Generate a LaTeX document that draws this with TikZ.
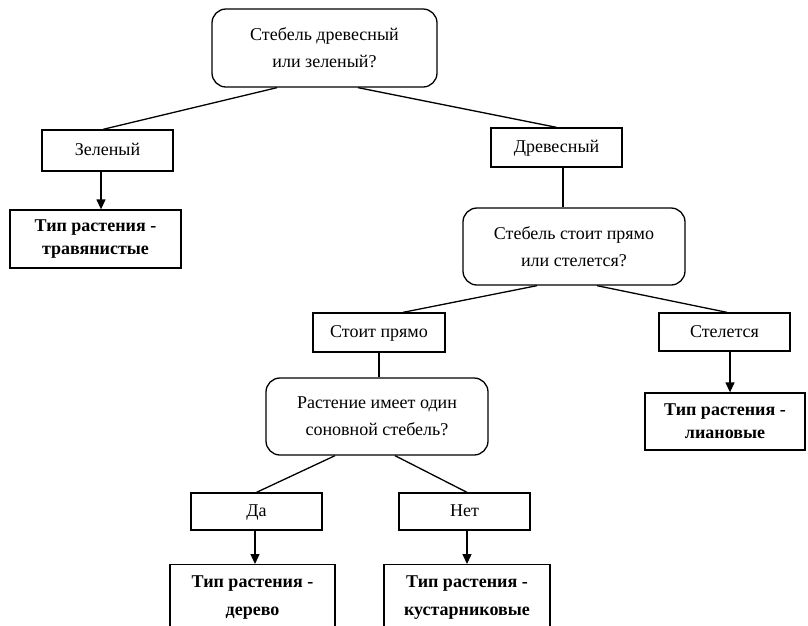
\documentclass[tikz,border=0pt]{standalone}
\usepackage{fontspec}
\setmainfont{Liberation Serif}
\usetikzlibrary{arrows.meta,calc}
\begin{document}
\begin{tikzpicture}[x=1pt,y=-1pt,
  box/.style={draw, line width=1.3pt, inner sep=0pt, align=center, font=\fontsize{18}{27}\selectfont},
  sbox/.style={box, text height=10pt, text depth=0pt},
  qbox/.style={box, rounded corners=14pt},
  res/.style={box, font=\fontsize{18}{23}\selectfont\bfseries},
  txt/.style={inner sep=0pt, align=center, font=\fontsize{18}{28}\selectfont\bfseries},
  conn/.style={line width=1.3pt},
  arr/.style={conn, -{Triangle[length=10pt,width=9pt]}}]
\path[fill=white] (0,0) rectangle (808,625);
\useasboundingbox (0,0) rectangle (808,625);
\clip (0,0) rectangle (808,625);
% nodes
\node[qbox, minimum width=225, minimum height=78] (q1) at (324.5,48) {Стебель древесный\\или зеленый?};
\node[sbox, minimum width=131, minimum height=41] (green) at (107.5,150.5) {Зеленый};
\node[res, minimum width=171, minimum height=58] (grass) at (95.5,239) {Тип растения -\\травянистые};
\node[sbox, minimum width=131, minimum height=39] (wood) at (556.5,147.5) {Древесный};
\node[qbox, minimum width=222, minimum height=77] (q2) at (574,246.5) {Стебель стоит прямо\\или стелется?};
\node[sbox, minimum width=132, minimum height=39] (upright) at (379,332.5) {Стоит прямо};
\node[sbox, minimum width=131, minimum height=38] (creep) at (724.5,332) {Стелется};
\node[res, minimum width=160, minimum height=57] (liana) at (725,421.5) {Тип растения -\\лиановые};
\node[qbox, minimum width=222, minimum height=77] (q3) at (377,416.5) {Растение имеет один\\соновной стебель?};
\node[sbox, minimum width=131, minimum height=37] (yes) at (256.5,511.5) {Да};
\node[sbox, minimum width=131, minimum height=37] (no) at (464.5,511.5) {Нет};
\node[box, minimum width=165, minimum height=120, anchor=north] (tree) at (252.5,564) {};
\node[txt] (treet) at (252.5,597.5) {Тип растения -\\дерево};
\node[box, minimum width=166, minimum height=120, anchor=north] (shrub) at (467,564) {};
\node[txt] (shrubt) at (467,597.5) {Тип растения -\\кустарниковые};
% connectors
\draw[conn] ($(q1.south)+(-47.5,0)$) -- ($(green.north)+(-4.5,0)$);
\draw[conn] ($(q1.south)+(33.5,0)$) -- (wood.north);
\draw[conn] ($(wood.south)+(6.5,0)$) -- ($(q2.north)+(-11,0)$);
\draw[conn] ($(q2.south)+(-37,0)$) -- ($(upright.north)+(24,0)$);
\draw[conn] ($(q2.south)+(23,0)$) -- ($(creep.north)+(2.5,0)$);
\draw[conn] (upright.south) -- ($(q3.north)+(2,0)$);
\draw[conn] ($(q3.south)+(-42,0)$) -- (yes.north);
\draw[conn] ($(q3.south)+(18,0)$) -- ($(no.north)+(2.5,0)$);
\draw[arr] ($(green.south)+(-6.5,0)$) -- ($(grass.north)+(5.5,0)$);
\draw[arr] ($(creep.south)+(5.5,0)$) -- ($(liana.north)+(5,0)$);
\draw[arr] ($(yes.south)+(-1.5,0)$) -- ($(tree.north)+(2.5,0)$);
\draw[arr] ($(no.south)+(2.5,0)$) -- (shrub.north);
\end{tikzpicture}
\end{document}
